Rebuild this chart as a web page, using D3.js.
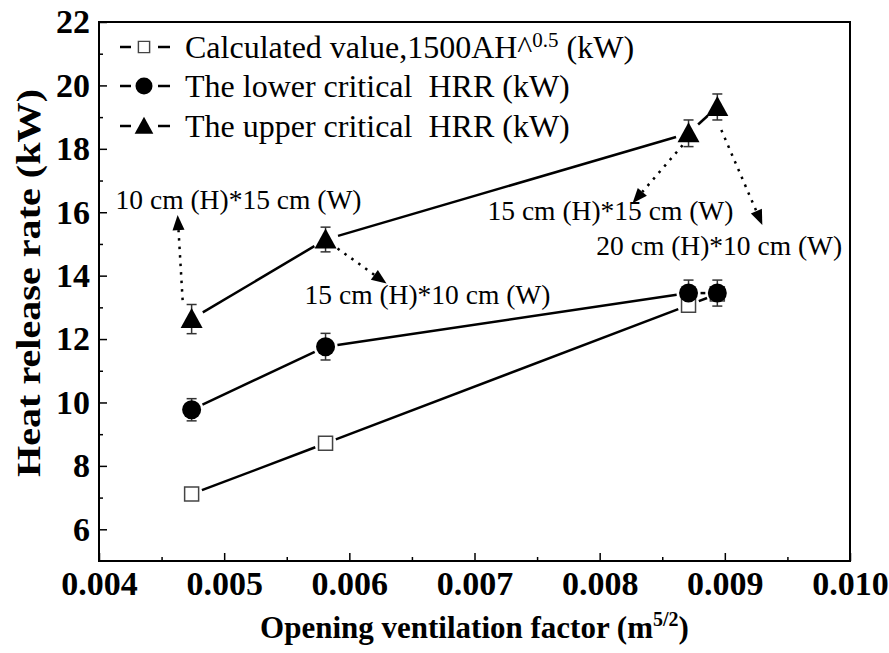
<!DOCTYPE html>
<html>
<head>
<meta charset="utf-8">
<script src="https://cdn.jsdelivr.net/npm/d3@7"></script>
<style>
  body { margin: 0; background: #fff; }
  text { font-family: 'Liberation Serif', 'Times New Roman', serif; fill: #000; white-space: pre; }
  .tick text { font: bold 34px 'Liberation Serif', serif; }
</style>
</head>
<body>
<script>
const width = 889
const height = 653
const margin = {top: 22, right: 39, bottom: 92, left: 99}

// datos
const ventFactor = [0.00474, 0.00581, 0.00871, 0.00894]
const calcHRR = [7.11, 8.71, 13.07, 13.42]
const lowerHRR = [9.77, 11.76, 13.45, 13.45]
const lowerErr = [0.35, 0.42, 0.41, 0.41]
const upperHRR = [12.63, 15.14, 18.49, 19.32]
const upperErr = [0.46, 0.39, 0.42, 0.41]

const xTicks = [0.004, 0.005, 0.006, 0.007, 0.008, 0.009, 0.010]
const xMinor = [0.0045, 0.0055, 0.0065, 0.0075, 0.0085, 0.0095]
const yTicks = [6, 8, 10, 12, 14, 16, 18, 20, 22]
const yMinor = [7, 9, 11, 13, 15, 17, 19, 21]

const legendMain = ['Calculated value,1500AH^', 'The lower critical  HRR (kW)', 'The upper critical  HRR (kW)']
const openings = ['10 cm (H)*15 cm (W)', '15 cm (H)*10 cm (W)', '15 cm (H)*15 cm (W)', '20 cm (H)*10 cm (W)']

// offsets de las flechas punteadas respecto al triangulo
const arrowLayout = [
  {sx: -9, sy: -19, ex: -14, ey: -104, tx: -76, ty: -110},
  {sx: 12, sy: 9, ex: 61, ey: 44, tx: -21, ty: 64},
  {sx: -6, sy: 12, ex: -56, ey: 70, tx: -201, ty: 87},
  {sx: 4, sy: 23, ex: 45, ey: 118, tx: -121, ty: 148}
]

const x = d3.scaleLinear().domain([0.004, 0.010]).range([margin.left, width - margin.right])
const y = d3.scaleLinear().domain([5, 22]).range([height - margin.bottom, margin.top])

const svg = d3.select('body').append('svg').attr('width', width).attr('height', height)

// ejes
const xAxis = svg.append('g')
  .attr('transform', `translate(0,${height - margin.bottom})`)
  .call(d3.axisBottom(x).tickValues(xTicks).tickSize(-8).tickPadding(10).tickFormat(d3.format('.3f')))
xAxis.append('g').call(d3.axisBottom(x).tickValues(xMinor).tickSize(-4).tickFormat(''))

const yAxis = svg.append('g')
  .attr('transform', `translate(${margin.left},0)`)
  .call(d3.axisLeft(y).tickValues(yTicks).tickSize(-8).tickPadding(9))
yAxis.append('g').call(d3.axisLeft(y).tickValues(yMinor).tickSize(-4).tickFormat(''))

svg.selectAll('.domain').remove()
svg.selectAll('.tick line').attr('stroke', '#000').attr('stroke-width', 1.5)
svg.selectAll('.tick text').attr('fill', '#000')

svg.append('rect')
  .attr('x', margin.left).attr('y', margin.top)
  .attr('width', width - margin.left - margin.right)
  .attr('height', height - margin.top - margin.bottom)
  .attr('fill', 'none').attr('stroke', '#000').attr('stroke-width', 2)

// titulos
svg.append('text')
  .attr('transform', `translate(40,283) rotate(-90)`)
  .attr('text-anchor', 'middle')
  .attr('textLength', 388).attr('lengthAdjust', 'spacingAndGlyphs')
  .style('font-weight', 'bold').style('font-size', '34px')
  .text('Heat release rate (kW)')

const xt = svg.append('text')
  .attr('x', (margin.left + width - margin.right) / 2).attr('y', 638)
  .attr('text-anchor', 'middle')
  .style('font-weight', 'bold').style('font-size', '31px')
xt.append('tspan').text('Opening ventilation factor (m')
xt.append('tspan').attr('dy', -12).style('font-size', '20px').text('5/2')
xt.append('tspan').attr('dy', 12).text(')')

// lineas con hueco alrededor de los marcadores
function gapLine(vals, gap) {
  const pts = vals.map((v, i) => [x(ventFactor[i]), y(v)])
  const segs = []
  for (let i = 0; i < pts.length - 1; i++) {
    const [x0, y0] = pts[i], [x1, y1] = pts[i + 1]
    const len = Math.hypot(x1 - x0, y1 - y0)
    if (len <= 2 * gap) continue
    const ux = (x1 - x0) / len, uy = (y1 - y0) / len
    segs.push([[x0 + ux * gap, y0 + uy * gap], [x1 - ux * gap, y1 - uy * gap]])
  }
  return segs
}

const plot = svg.append('g')
;[[calcHRR, 11], [lowerHRR, 12], [upperHRR, 13]].forEach(([vals, gap]) => {
  plot.selectAll(null)
    .data(gapLine(vals, gap))
    .join('line')
    .attr('x1', d => d[0][0]).attr('y1', d => d[0][1])
    .attr('x2', d => d[1][0]).attr('y2', d => d[1][1])
    .attr('stroke', '#000').attr('stroke-width', 2.5)
})

// barras de error
function errBars(vals, errs) {
  const g = plot.append('g').selectAll('g').data(vals).join('g')
  g.append('line')
    .attr('x1', (d, i) => x(ventFactor[i])).attr('x2', (d, i) => x(ventFactor[i]))
    .attr('y1', (d, i) => y(d - errs[i])).attr('y2', (d, i) => y(d + errs[i]))
  g.append('line')
    .attr('x1', (d, i) => x(ventFactor[i]) - 5).attr('x2', (d, i) => x(ventFactor[i]) + 5)
    .attr('y1', (d, i) => y(d - errs[i])).attr('y2', (d, i) => y(d - errs[i]))
  g.append('line')
    .attr('x1', (d, i) => x(ventFactor[i]) - 5).attr('x2', (d, i) => x(ventFactor[i]) + 5)
    .attr('y1', (d, i) => y(d + errs[i])).attr('y2', (d, i) => y(d + errs[i]))
  g.selectAll('line').attr('stroke', '#333').attr('stroke-width', 1.5)
}
errBars(lowerHRR, lowerErr)
errBars(upperHRR, upperErr)

const squarePath = 'M-7,-7H7V7H-7Z'
const triPath = 'M0,-11L11,9H-11Z'

plot.selectAll(null).data(calcHRR).join('path')
  .attr('d', squarePath)
  .attr('transform', (d, i) => `translate(${x(ventFactor[i])},${y(d)})`)
  .attr('fill', '#fff').attr('stroke', '#444').attr('stroke-width', 1.5)

plot.selectAll(null).data(lowerHRR).join('circle')
  .attr('cx', (d, i) => x(ventFactor[i])).attr('cy', d => y(d)).attr('r', 9.5)
  .attr('fill', '#000')

plot.selectAll(null).data(upperHRR).join('path')
  .attr('d', triPath)
  .attr('transform', (d, i) => `translate(${x(ventFactor[i])},${y(d)})`)
  .attr('fill', '#000')

// anotaciones con flechas punteadas
const notes = svg.append('g')
upperHRR.forEach((v, i) => {
  const px = x(ventFactor[i]), py = y(v)
  const a = arrowLayout[i]
  const x0 = px + a.sx, y0 = py + a.sy, x1 = px + a.ex, y1 = py + a.ey
  const ang = Math.atan2(y1 - y0, x1 - x0)
  const hl = 15, hw = 6
  const bx = x1 - Math.cos(ang) * hl, by = y1 - Math.sin(ang) * hl
  notes.append('line')
    .attr('x1', x0).attr('y1', y0).attr('x2', bx).attr('y2', by)
    .attr('stroke', '#000').attr('stroke-width', 2.5).attr('stroke-dasharray', '2.5,6')
  notes.append('path')
    .attr('d', `M${x1},${y1}L${bx - Math.sin(ang) * hw},${by + Math.cos(ang) * hw}L${bx + Math.sin(ang) * hw},${by - Math.cos(ang) * hw}Z`)
    .attr('fill', '#000')
  notes.append('text')
    .attr('x', px + a.tx).attr('y', py + a.ty)
    .style('font-size', '27.5px')
    .text(openings[i])
})

// leyenda
const legend = svg.append('g').attr('transform', 'translate(120,0)')
const rowY = [47, 86, 126]
rowY.forEach((ry, i) => {
  const row = legend.append('g').attr('transform', `translate(0,${ry})`)
  row.append('line').attr('x1', 0).attr('x2', 11).attr('stroke', '#000').attr('stroke-width', 2.5)
  row.append('line').attr('x1', 38).attr('x2', 50).attr('stroke', '#000').attr('stroke-width', 2.5)
  if (i === 0) {
    row.append('path').attr('d', squarePath).attr('transform', 'translate(24,0) scale(0.8)')
      .attr('fill', '#fff').attr('stroke', '#444').attr('stroke-width', 1.8)
  } else if (i === 1) {
    row.append('circle').attr('cx', 24).attr('r', 8.5).attr('fill', '#000')
  } else {
    row.append('path').attr('d', triPath).attr('transform', 'translate(24,0) scale(0.85)').attr('fill', '#000')
  }
  const t = row.append('text').attr('x', 65).attr('dy', '0.35em').style('font-size', '32px')
  t.append('tspan').text(legendMain[i])
  if (i === 0) {
    t.append('tspan').attr('dy', -11).style('font-size', '21px').text('0.5')
    t.append('tspan').attr('dy', 11).text(' (kW)')
  }
})
</script>
</body>
</html>
